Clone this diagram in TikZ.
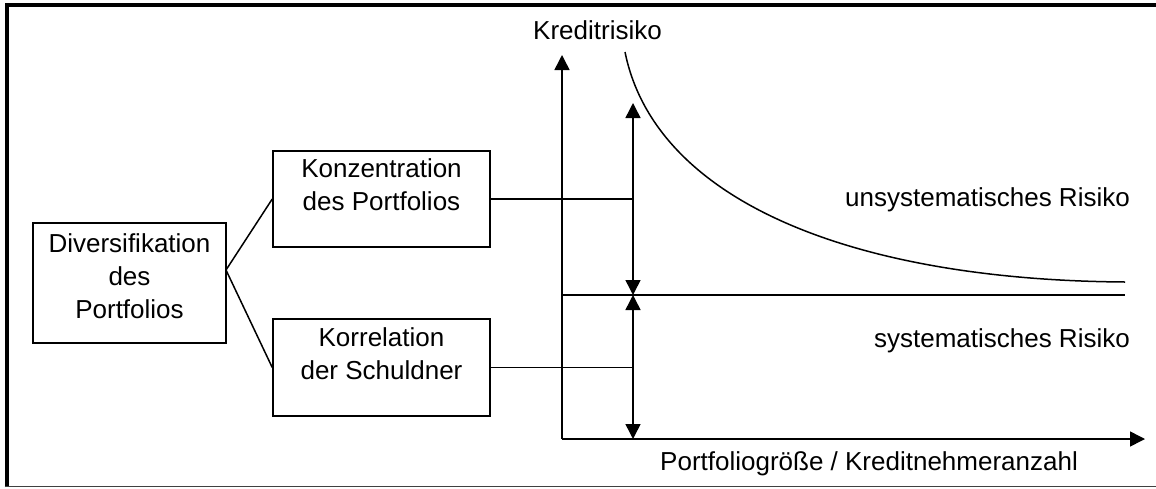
\documentclass[tikz,border=0pt]{standalone}
\usepackage{fontspec}
\setmainfont{Liberation Sans}
\usetikzlibrary{arrows.meta}
\begin{document}
\begin{tikzpicture}[x=1pt,y=-1pt,
  box/.style={draw, line width=1.5pt, inner sep=0pt},
  lbl/.style={inner sep=0pt, font=\fontsize{26}{33}\selectfont},
  ln/.style={line width=1.5pt},
  arr/.style={line width=1.5pt, -{Triangle[length=15pt,width=15pt]}},
  darr/.style={line width=1.5pt, {Triangle[length=15pt,width=15pt]}-{Triangle[length=15pt,width=15pt]}}]
\useasboundingbox (0,0) rectangle (1156,488);
% frame
\draw[line width=4pt] (6.5,487) -- (6.5,5.3) -- (1160,5.3);
\draw[line width=1.2pt, black!75] (4.5,486.6) -- (1160,486.6);
% boxes
\node[box, minimum width=193pt, minimum height=120pt] (div) at (129.5,283) {};
\node[box, minimum width=217pt, minimum height=96pt] (kon) at (381.5,199) {};
\node[box, minimum width=217pt, minimum height=97pt] (kor) at (381.5,367.5) {};
\node[lbl, anchor=base] (tdiv) at (129.5,252) {\begin{tabular}[t]{@{}c@{}}Diversifikation\\des\\Portfolios\end{tabular}};
\node[lbl, anchor=base] (tkon) at (381.5,177) {\begin{tabular}[t]{@{}c@{}}Konzentration\\des Portfolios\end{tabular}};
\node[lbl, anchor=base] (tkor) at (381.5,346) {\begin{tabular}[t]{@{}c@{}}Korrelation\\der Schuldner\end{tabular}};
% tree connectors
\coordinate (apex) at (226,270);
\draw[ln] (kon.west) -- (apex) -- (kor.west);
% axes
\coordinate (O) at (562,439);
\coordinate (ytop) at (562,55);
\coordinate (xend) at (1145,439);
\draw[arr] (O) -- (ytop);
\draw[arr] (O) -- (xend);
% lines from boxes
\coordinate (m1) at (633,199);
\coordinate (m2) at (633,367.5);
\draw[ln] (kon.east) -- (m1);
\draw[ln] (kor.east) -- (m2);
% systematic level
\coordinate (s0) at (562,295);
\coordinate (s1) at (1125,295);
\draw[ln] (s0) -- (s1);
% double arrows
\coordinate (a0) at (633,103);
\coordinate (a1) at (633,295);
\coordinate (a2) at (633,439);
\draw[darr] (a0) -- (a1);
\draw[darr] (a1) -- (a2);
% risk curve
\coordinate (c0) at (625,52);
\coordinate (c1) at (1125,282);
\draw[ln] (c0) .. controls (655,200) and (850,280) .. (c1);
% labels
\node[lbl, anchor=base west] (yl) at (533,39) {Kreditrisiko};
\node[lbl, anchor=base east] (ul) at (1130,206) {unsystematisches Risiko};
\node[lbl, anchor=base east] (sl) at (1130,347) {systematisches Risiko};
\node[lbl, anchor=base west] (xl) at (660,470) {Portfoliogröße / Kreditnehmeranzahl};
\end{tikzpicture}
\end{document}
